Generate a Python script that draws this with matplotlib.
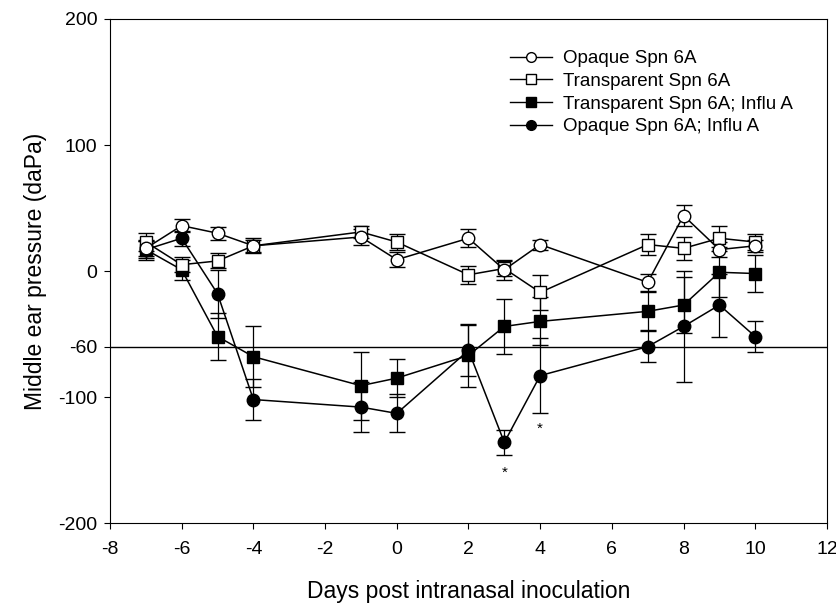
import matplotlib.pyplot as plt
from matplotlib.lines import Line2D

plt.rcParams['font.family'] = ['Liberation Sans', 'DejaVu Sans']
plt.rcParams['axes.unicode_minus'] = False

# days post inoculation
dias = [-7, -6, -5, -4, -1, 0, 2, 3, 4, 7, 8, 9, 10]

# Opaque Spn 6A
opaco = [18, 36, 30, 20, 27, 9, 26, 1, 21, -9, 44, 17, 20]
opaco_err = [6, 5, 5, 5, 6, 6, 7, 8, 4, 7, 8, 6, 5]

# Transparent Spn 6A
transp = [23, 5, 8, 20, 31, 23, -3, 2, -17, 21, 18, 26, 23]
transp_err = [7, 6, 6, 6, 5, 6, 7, 6, 14, 8, 9, 10, 6]

# Transparent Spn 6A; Influ A
transp_flu = [17, 1, -52, -68, -91, -85, -67, -44, -40, -32, -27, -1, -2]
transp_flu_err = [8, 8, 19, 24, 27, 15, 25, 22, 19, 15, 22, 20, 15]

# Opaque Spn 6A; Influ A
opaco_flu = [17, 26, -18, -102, -108, -113, -63, -136, -83, -60, -44, -27, -52]
opaco_flu_err = [7, 6, 19, 16, 20, 15, 20, 10, 30, 12, 44, 25, 12]

nombres = ['Opaque Spn 6A', 'Transparent Spn 6A',
           'Transparent Spn 6A; Influ A', 'Opaque Spn 6A; Influ A']

fig = plt.figure(figsize=(8.37, 6.05), dpi=100)
ax = fig.add_axes([0.1314, 0.1355, 0.8566, 0.8331])

estilo = dict(color='black', lw=1.1, capsize=6, elinewidth=0.9, capthick=0.9,
              markersize=9, markeredgewidth=1.0, markeredgecolor='black')

ax.axhline(-60, color='black', lw=1.0, zorder=1)

ax.errorbar(dias, opaco_flu, yerr=opaco_flu_err, marker='o', markerfacecolor='black',
            zorder=3, **estilo)
ax.errorbar(dias, transp_flu, yerr=transp_flu_err, marker='s', markerfacecolor='black',
            zorder=3, **estilo)
ax.errorbar(dias, transp, yerr=transp_err, marker='s', markerfacecolor='white',
            zorder=4, **estilo)
ax.errorbar(dias, opaco, yerr=opaco_err, marker='o', markerfacecolor='white',
            zorder=4, **estilo)

# significance marks
ax.text(3, -160, '*', ha='center', va='center', fontsize=11)
ax.text(4, -125, '*', ha='center', va='center', fontsize=11)

ax.set_xlim(-8, 12)
ax.set_ylim(-200, 200)
ax.set_xticks(range(-8, 13, 2))
ax.set_yticks([-200, -100, -60, 0, 100, 200])
ax.tick_params(direction='out', length=4, width=0.8, labelsize=14)
ax.tick_params(axis='x', pad=9)
ax.tick_params(axis='y', pad=5)
for s in ax.spines.values():
    s.set_linewidth(0.8)

ax.set_xlabel('Days post intranasal inoculation', fontsize=16.5, labelpad=16)
ax.set_ylabel('Middle ear pressure (daPa)', fontsize=16.5, labelpad=8)

marcas = [('o', 'white'), ('s', 'white'), ('s', 'black'), ('o', 'black')]
manijas = [Line2D([], [], color='black', lw=1.0, marker=m, markerfacecolor=c,
                  markeredgecolor='black', markersize=7) for m, c in marcas]
ax.legend(manijas, nombres, loc='upper left', bbox_to_anchor=(0.535, 0.972),
          frameon=False, fontsize=13.5, handlelength=2.2, labelspacing=0.3,
          handletextpad=0.6)

plt.savefig('out.png', dpi=100)
